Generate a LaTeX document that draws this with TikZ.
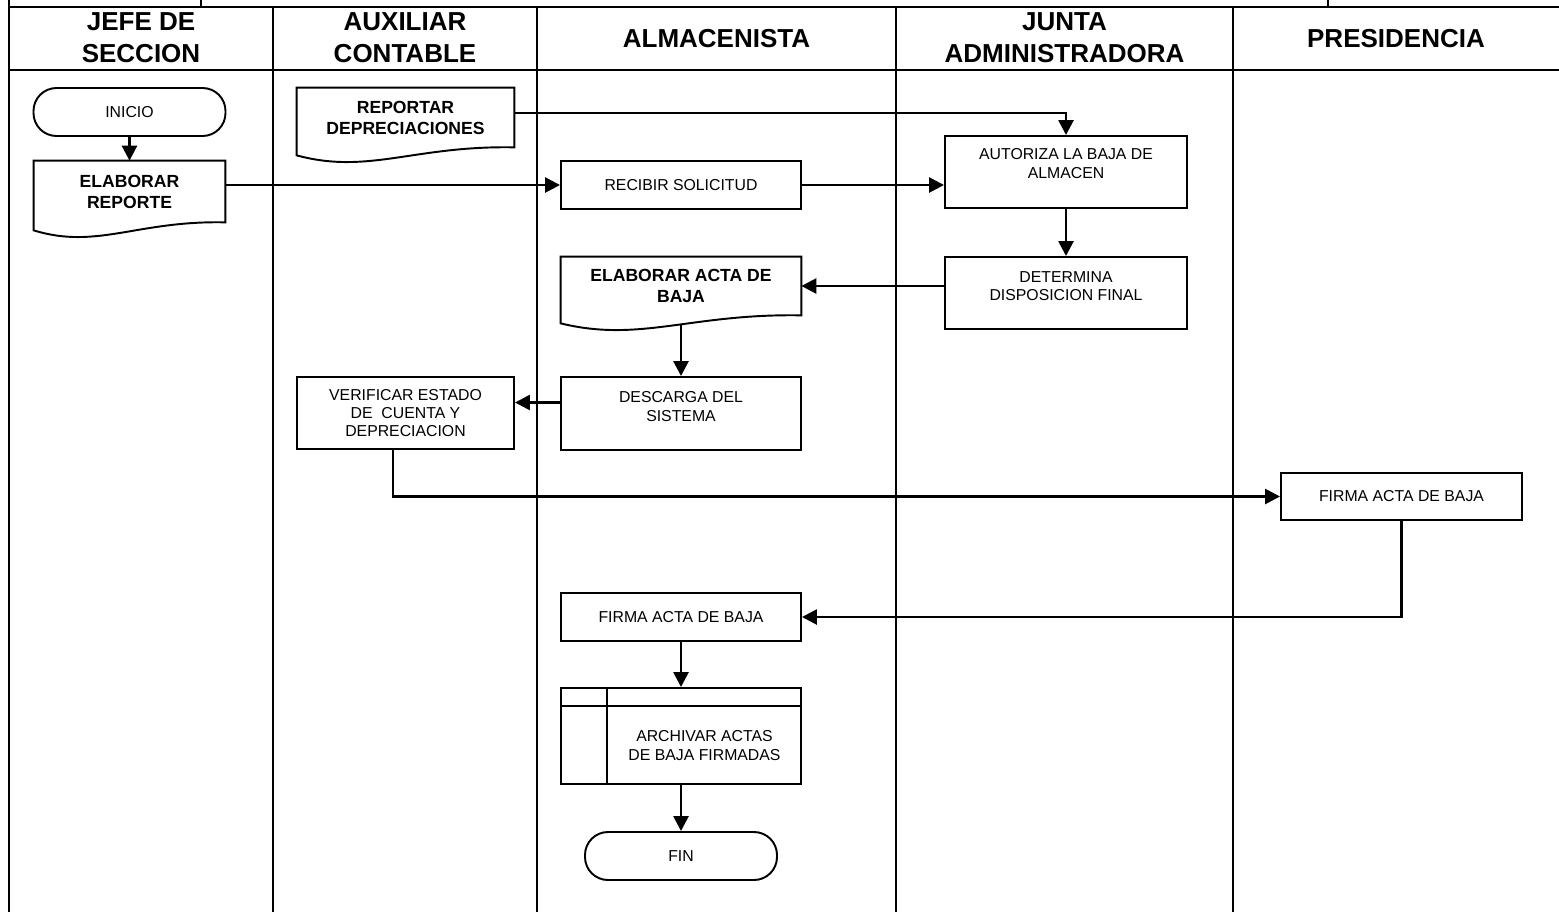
\documentclass[tikz,border=0pt]{standalone}
\usepackage{fontspec}
\setmainfont{Liberation Sans}
\usetikzlibrary{arrows.meta,calc}

\newcommand{\headfont}{\fontsize{14.8}{18.2}\selectfont\bfseries}
\newcommand{\boxfont}{\fontsize{9}{10.4}\selectfont}
\newcommand{\docfont}{\fontsize{10}{12}\selectfont\bfseries}

% outline of a document box: flat top, wavy bottom below the node
\newcommand{\docframe}[1]{%
  \draw[boxline] ([yshift=-0.16cm]#1.south west) -- (#1.north west) -- (#1.north east) -- (#1.south east)
    .. controls ($(#1.south west)!0.54!(#1.south east)+(0,0.04)$)
    and ($(#1.south west)!0.33!(#1.south east)+(0,-0.55)$) .. ([yshift=-0.16cm]#1.south west) -- cycle;}

\begin{document}
\begin{tikzpicture}[
    frame/.style={line width=1.6pt},
    lane/.style={line width=1.3pt},
    boxline/.style={line width=1.1pt},
    head/.style={font=\headfont, align=center},
    txt/.style={font=\boxfont, align=center},
    box/.style={rectangle, draw, boxline, minimum width=4.8cm, minimum height=0.96cm,
        font=\boxfont, align=center, inner sep=1pt},
    tallbox/.style={box, minimum height=1.44cm},
    term/.style={box, rounded corners=0.46cm, minimum width=3.84cm},
    doc/.style={rectangle, minimum width=4.8cm, minimum height=1.16cm,
        font=\docfont, align=center, inner sep=1pt},
    arr/.style={-{Triangle[length=0.3cm,width=0.3cm]}, line width=1.5pt}
  ]
  \useasboundingbox (0,0) rectangle (31.18,-18.24);

  % lanes and header row
  \draw[frame] (0.18,0) -- (0.18,-18.24);
  \draw[frame] (0.18,-0.14) -- (31.18,-0.14);
  \draw[frame] (0.18,-1.40) -- (31.18,-1.40);
  \foreach \x in {5.46,10.74,17.92,24.66}
    \draw[lane] (\x,-0.14) -- (\x,-18.24);
  \draw[boxline] (4.02,0) -- (4.02,-0.14);
  \draw[boxline] (26.56,0) -- (26.56,-0.14);

  \node[head] at (2.82,-0.75)  (hjefe)  {JEFE DE\\SECCION};
  \node[head] at (8.10,-0.75)  (haux)   {AUXILIAR\\CONTABLE};
  \node[head] at (14.33,-0.77) (halm)   {ALMACENISTA};
  \node[head] at (21.29,-0.75) (hjunta) {JUNTA\\ADMINISTRADORA};
  \node[head] at (27.92,-0.77) (hpres)  {PRESIDENCIA};

  % JEFE DE SECCION
  \node[term] at (2.59,-2.24) (inicio) {INICIO};
  \node[doc, minimum width=3.82cm, minimum height=1.22cm] at (2.59,-3.83) (elab) {ELABORAR\\REPORTE};
  \docframe{elab}

  % AUXILIAR CONTABLE
  \node[doc, minimum width=4.34cm, minimum height=1.18cm] at (8.11,-2.35) (reportar) {REPORTAR\\DEPRECIACIONES};
  \docframe{reportar}
  \node[tallbox, minimum width=4.34cm] at (8.11,-8.26) (verificar) {VERIFICAR ESTADO\\DE\ \ CUENTA Y\\DEPRECIACION};

  % ALMACENISTA
  \node[box] at (13.62,-3.70) (recibir) {RECIBIR SOLICITUD};
  \node[doc] at (13.62,-5.72) (acta) {ELABORAR ACTA DE\\BAJA};
  \docframe{acta}
  \node[tallbox, minimum height=1.46cm,
    label={[txt, yshift=0.14cm]center:DESCARGA DEL\\SISTEMA}] at (13.62,-8.27) (descarga) {};
  \node[box] at (13.62,-12.34) (firmaa) {FIRMA ACTA DE BAJA};
  \node[box, minimum height=1.92cm,
    label={[txt, xshift=0.47cm, yshift=-0.19cm]center:ARCHIVAR ACTAS\\DE BAJA FIRMADAS}] at (13.62,-14.72) (archivar) {};
  \draw[boxline] ([xshift=0.94cm]archivar.north west) -- ([xshift=0.94cm]archivar.south west);
  \draw[boxline] ([yshift=-0.38cm]archivar.north west) -- ([yshift=-0.38cm]archivar.north east);
  \node[term, minimum height=0.96cm] at (13.62,-17.12) (fin) {FIN};

  % JUNTA ADMINISTRADORA
  \node[tallbox, minimum width=4.84cm,
    label={[txt, yshift=0.17cm]center:AUTORIZA LA BAJA DE\\ALMACEN}] at (21.32,-3.44) (autoriza) {};
  \node[tallbox, minimum width=4.84cm,
    label={[txt, yshift=0.14cm]center:DETERMINA\\DISPOSICION FINAL}] at (21.32,-5.86) (determina) {};

  % PRESIDENCIA
  \node[box, minimum width=4.82cm, minimum height=0.94cm] at (28.03,-9.93) (firmap) {FIRMA ACTA DE BAJA};

  % connectors
  \draw[arr] (inicio) -- (elab);
  \draw[arr] ([yshift=0.09cm]reportar.east) -| (autoriza.north);
  \draw[arr] (elab.east |- recibir.west) -- (recibir.west);
  \draw[arr] (recibir.east) -- (recibir.east -| autoriza.west);
  \draw[arr] (autoriza) -- (determina);
  \draw[arr] (determina.west |- acta.east) -- (acta.east);
  \draw[arr] ([yshift=-0.2cm]acta.south) -- (descarga.north);
  \draw[arr] ([yshift=0.22cm]descarga.west) -- ([yshift=0.22cm]descarga.west -| verificar.east);
  \draw[arr] ([xshift=-0.25cm]verificar.south) |- (firmap.west);
  \draw[arr] (firmap.south) |- (firmaa.east);
  \draw[arr] (firmaa) -- (archivar);
  \draw[arr] (archivar) -- (fin);
\end{tikzpicture}
\end{document}
